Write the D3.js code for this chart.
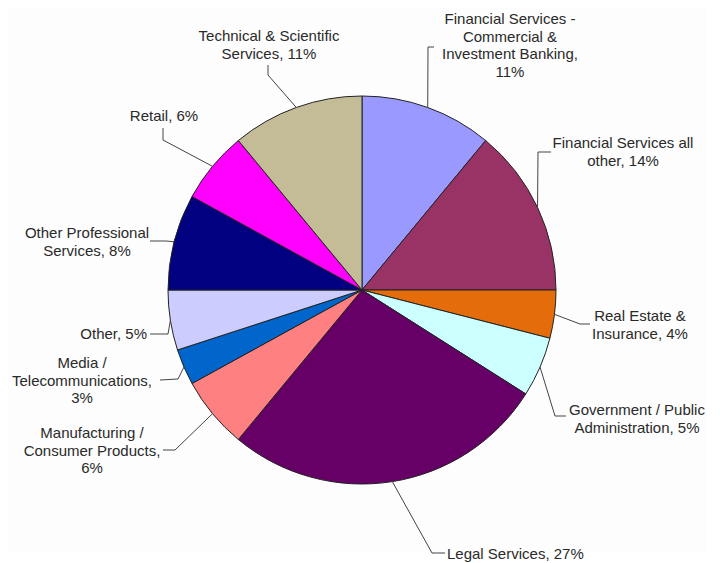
<!DOCTYPE html>
<html>
<head>
<meta charset="utf-8">
<script src="https://cdn.jsdelivr.net/npm/d3@7"></script>
<style>
  body { margin: 0; background: #fff; }
  text { font-family: "Liberation Sans", Arial, sans-serif; font-size: 15px; fill: #2a2a2a; }
</style>
</head>
<body>
<div id="viz"></div>
<script>
// slices, clockwise from 12 o'clock
const categories = [
  "Financial Services - Commercial & Investment Banking",
  "Financial Services all other",
  "Real Estate & Insurance",
  "Government / Public Administration",
  "Legal Services",
  "Manufacturing / Consumer Products",
  "Media / Telecommunications",
  "Other",
  "Other Professional Services",
  "Retail",
  "Technical & Scientific Services"
];
const values = [11, 14, 4, 5, 27, 6, 3, 5, 8, 6, 11];
const colors = ["#9999ff", "#993366", "#e46c0a", "#ccffff", "#660066", "#ff8080",
                "#0066cc", "#ccccff", "#000080", "#ff00ff", "#c4bc96"];
const labelLines = [
  ["Financial Services -", "Commercial &", "Investment Banking,", "11%"],
  ["Financial Services all", "other, 14%"],
  ["Real Estate &", "Insurance, 4%"],
  ["Government / Public", "Administration, 5%"],
  ["Legal Services, 27%"],
  ["Manufacturing /", "Consumer Products,", "6%"],
  ["Media /", "Telecommunications,", "3%"],
  ["Other, 5%"],
  ["Other Professional", "Services, 8%"],
  ["Retail, 6%"],
  ["Technical & Scientific", "Services, 11%"]
];

// label layout: text anchor + leader bend points (after the start on the pie edge)
const labelLayout = [
  {x: 510, y: 24, anchor: "middle", leader: [[428, 47], [434, 47]]},
  {x: 623, y: 148, anchor: "middle", leader: [[538, 152], [551, 152]]},
  {x: 640, y: 321, anchor: "middle", leader: [[580, 324], [590, 324]]},
  {x: 637, y: 415, anchor: "middle", leader: [[555, 416], [566, 416]]},
  {x: 447, y: 559, anchor: "start", leader: [[432, 553], [445, 553]]},
  {x: 92, y: 438, anchor: "middle", leader: [[175, 450], [163, 450]]},
  {x: 82, y: 368, anchor: "middle", leader: [[178, 379], [160, 380]]},
  {x: 147, y: 339, anchor: "end", leader: [[168, 334], [150, 334]]},
  {x: 87, y: 238, anchor: "middle", leader: [[166, 241], [150, 241]]},
  {x: 164, y: 121, anchor: "middle", leader: [[163, 140], [163, 128]]},
  {x: 269, y: 41, anchor: "middle", leader: [[268, 75], [268, 65]]}
];

const width = 720, height = 563;
const cx = 362, cy = 290, radius = 194;
const lineHeight = 17.5;

const svg = d3.select("#viz")
  .append("svg")
    .attr("width", width)
    .attr("height", height);

// faint plot area
svg.append("rect")
    .attr("x", 8).attr("y", 8)
    .attr("width", 699).attr("height", 545)
    .attr("fill", "#fcfdfc");

const data = categories.map((c, i) => ({name: c, value: values[i], color: colors[i], lines: labelLines[i], layout: labelLayout[i]}));

const pie = d3.pie().sort(null).value(d => d.value);
const arc = d3.arc().innerRadius(0).outerRadius(radius);
const edge = d3.arc().innerRadius(radius).outerRadius(radius);

const g = svg.append("g").attr("transform", `translate(${cx},${cy})`);
const arcs = pie(data);

g.selectAll("path.slice")
  .data(arcs)
  .join("path")
    .attr("class", "slice")
    .attr("d", arc)
    .attr("fill", d => d.data.color)
    .attr("stroke", "#222")
    .attr("stroke-width", 1);

// leader lines
svg.selectAll("polyline.leader")
  .data(arcs)
  .join("polyline")
    .attr("class", "leader")
    .attr("fill", "none")
    .attr("stroke", "#444")
    .attr("stroke-width", 1)
    .attr("points", d => {
      const [ex, ey] = edge.centroid(d);
      return [[cx + ex, cy + ey]].concat(d.data.layout.leader).map(p => p.join(",")).join(" ");
    });

// labels
const labels = svg.selectAll("text.label")
  .data(arcs)
  .join("text")
    .attr("class", "label")
    .attr("text-anchor", d => d.data.layout.anchor)
    .attr("x", d => d.data.layout.x)
    .attr("y", d => d.data.layout.y);

labels.selectAll("tspan")
  .data(d => d.data.lines.map(l => ({t: l, x: d.data.layout.x})))
  .join("tspan")
    .attr("x", d => d.x)
    .attr("dy", (d, i) => i === 0 ? 0 : lineHeight)
    .text(d => d.t);
</script>
</body>
</html>
